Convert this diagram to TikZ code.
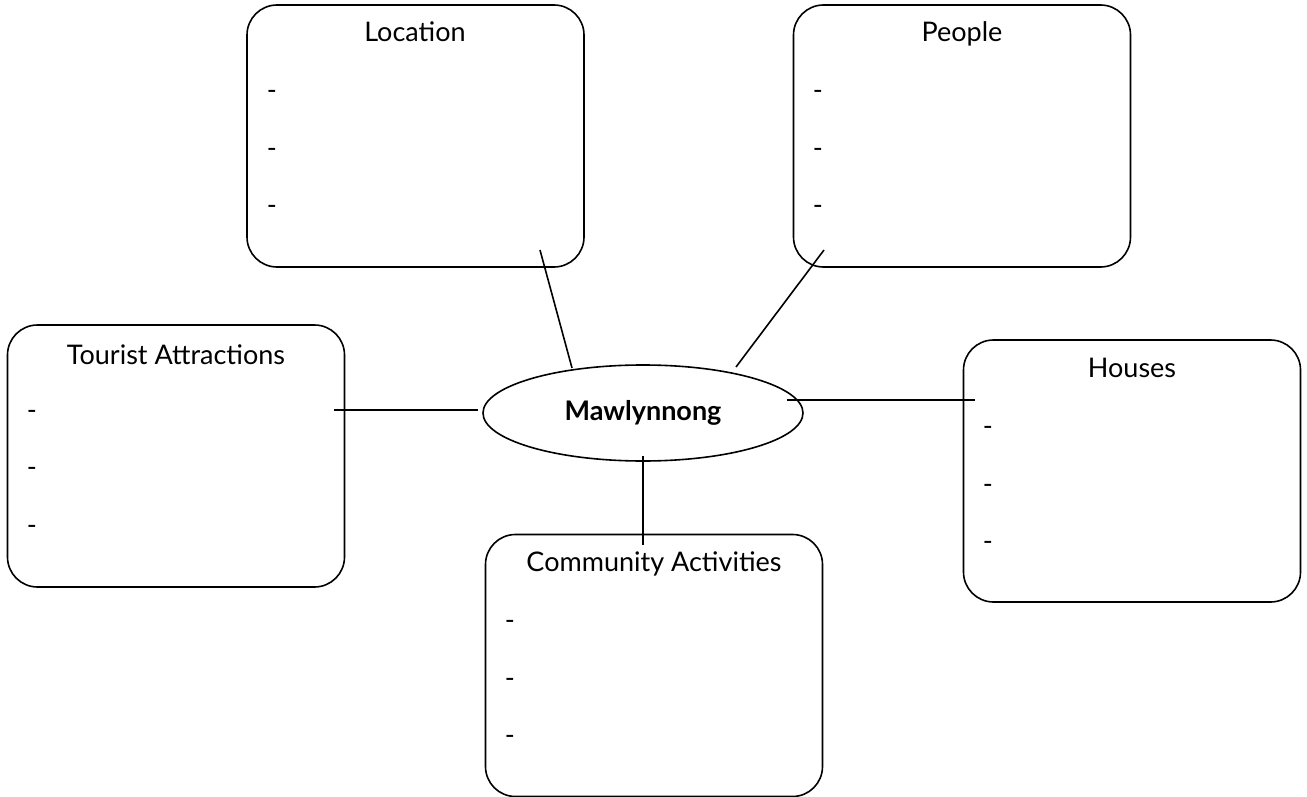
\documentclass[tikz,border=0pt]{standalone}
\usepackage{fontspec}
\setmainfont{Lato}
\usetikzlibrary{shapes.geometric}
\begin{document}
\begin{tikzpicture}[x=1pt,y=-1pt,
  cbox/.style={draw,line width=1.6pt,rounded corners=30pt,minimum width=337pt,minimum height=262pt,inner sep=0pt},
  ttl/.style={font=\fontsize{27}{32}\selectfont,anchor=center,text height=0.72em,text depth=0.22em},
  dsh/.style={font=\fontsize{27}{32}\selectfont,anchor=center},
  conn/.style={line width=1.6pt}]
\useasboundingbox (0,0) rectangle (1307,797);
% boxes
\node[cbox] (loc) at (415.5,136) {};
\node[cbox] (ppl) at (962,136) {};
\node[cbox] (tour) at (176,456) {};
\node[cbox] (hous) at (1132,471) {};
\node[cbox] (comm) at (654,665.5) {};
\node[draw,line width=1.6pt,ellipse,minimum width=320pt,minimum height=96pt,inner sep=0pt,font=\fontsize{27}{32}\selectfont\bfseries] (maw) at (643,413) {Mawlynnong};
% titles
\node[ttl] (locT) at (415,39) {Location};
\node[ttl] (pplT) at (962,39) {People};
\node[ttl] (tourT) at (176,362) {Tourist Attractions};
\node[ttl] (housT) at (1132,375) {Houses};
\node[ttl] (commT) at (654,569) {Community Activities};
% dashes
\foreach \n/\x/\y in {l1/272/95,l2/272/153,l3/272/210,
                      p1/818/95,p2/818/153,p3/818/210,
                      t1/32/415,t2/32/472,t3/32/530,
                      h1/988/431,h2/988/489,h3/988/546,
                      c1/510/625,c2/510/683,c3/510/740}
  \node[dsh] (d\n) at (\x,\y) {-};
% connector ends
\coordinate (locE) at (540,250);
\coordinate (mawL) at (572,368);
\coordinate (pplE) at (824,250);
\coordinate (mawP) at (736,367);
\coordinate (tourE) at (334,410);
\coordinate (mawT) at (478,410);
\coordinate (housE) at (975,400);
\coordinate (mawH) at (787,400);
\coordinate (commE) at (643,545);
\coordinate (mawC) at (643,456);
\draw[conn] (locE) -- (mawL);
\draw[conn] (pplE) -- (mawP);
\draw[conn] (tourE) -- (mawT);
\draw[conn] (mawH) -- (housE);
\draw[conn] (mawC) -- (commE);
\end{tikzpicture}
\end{document}
